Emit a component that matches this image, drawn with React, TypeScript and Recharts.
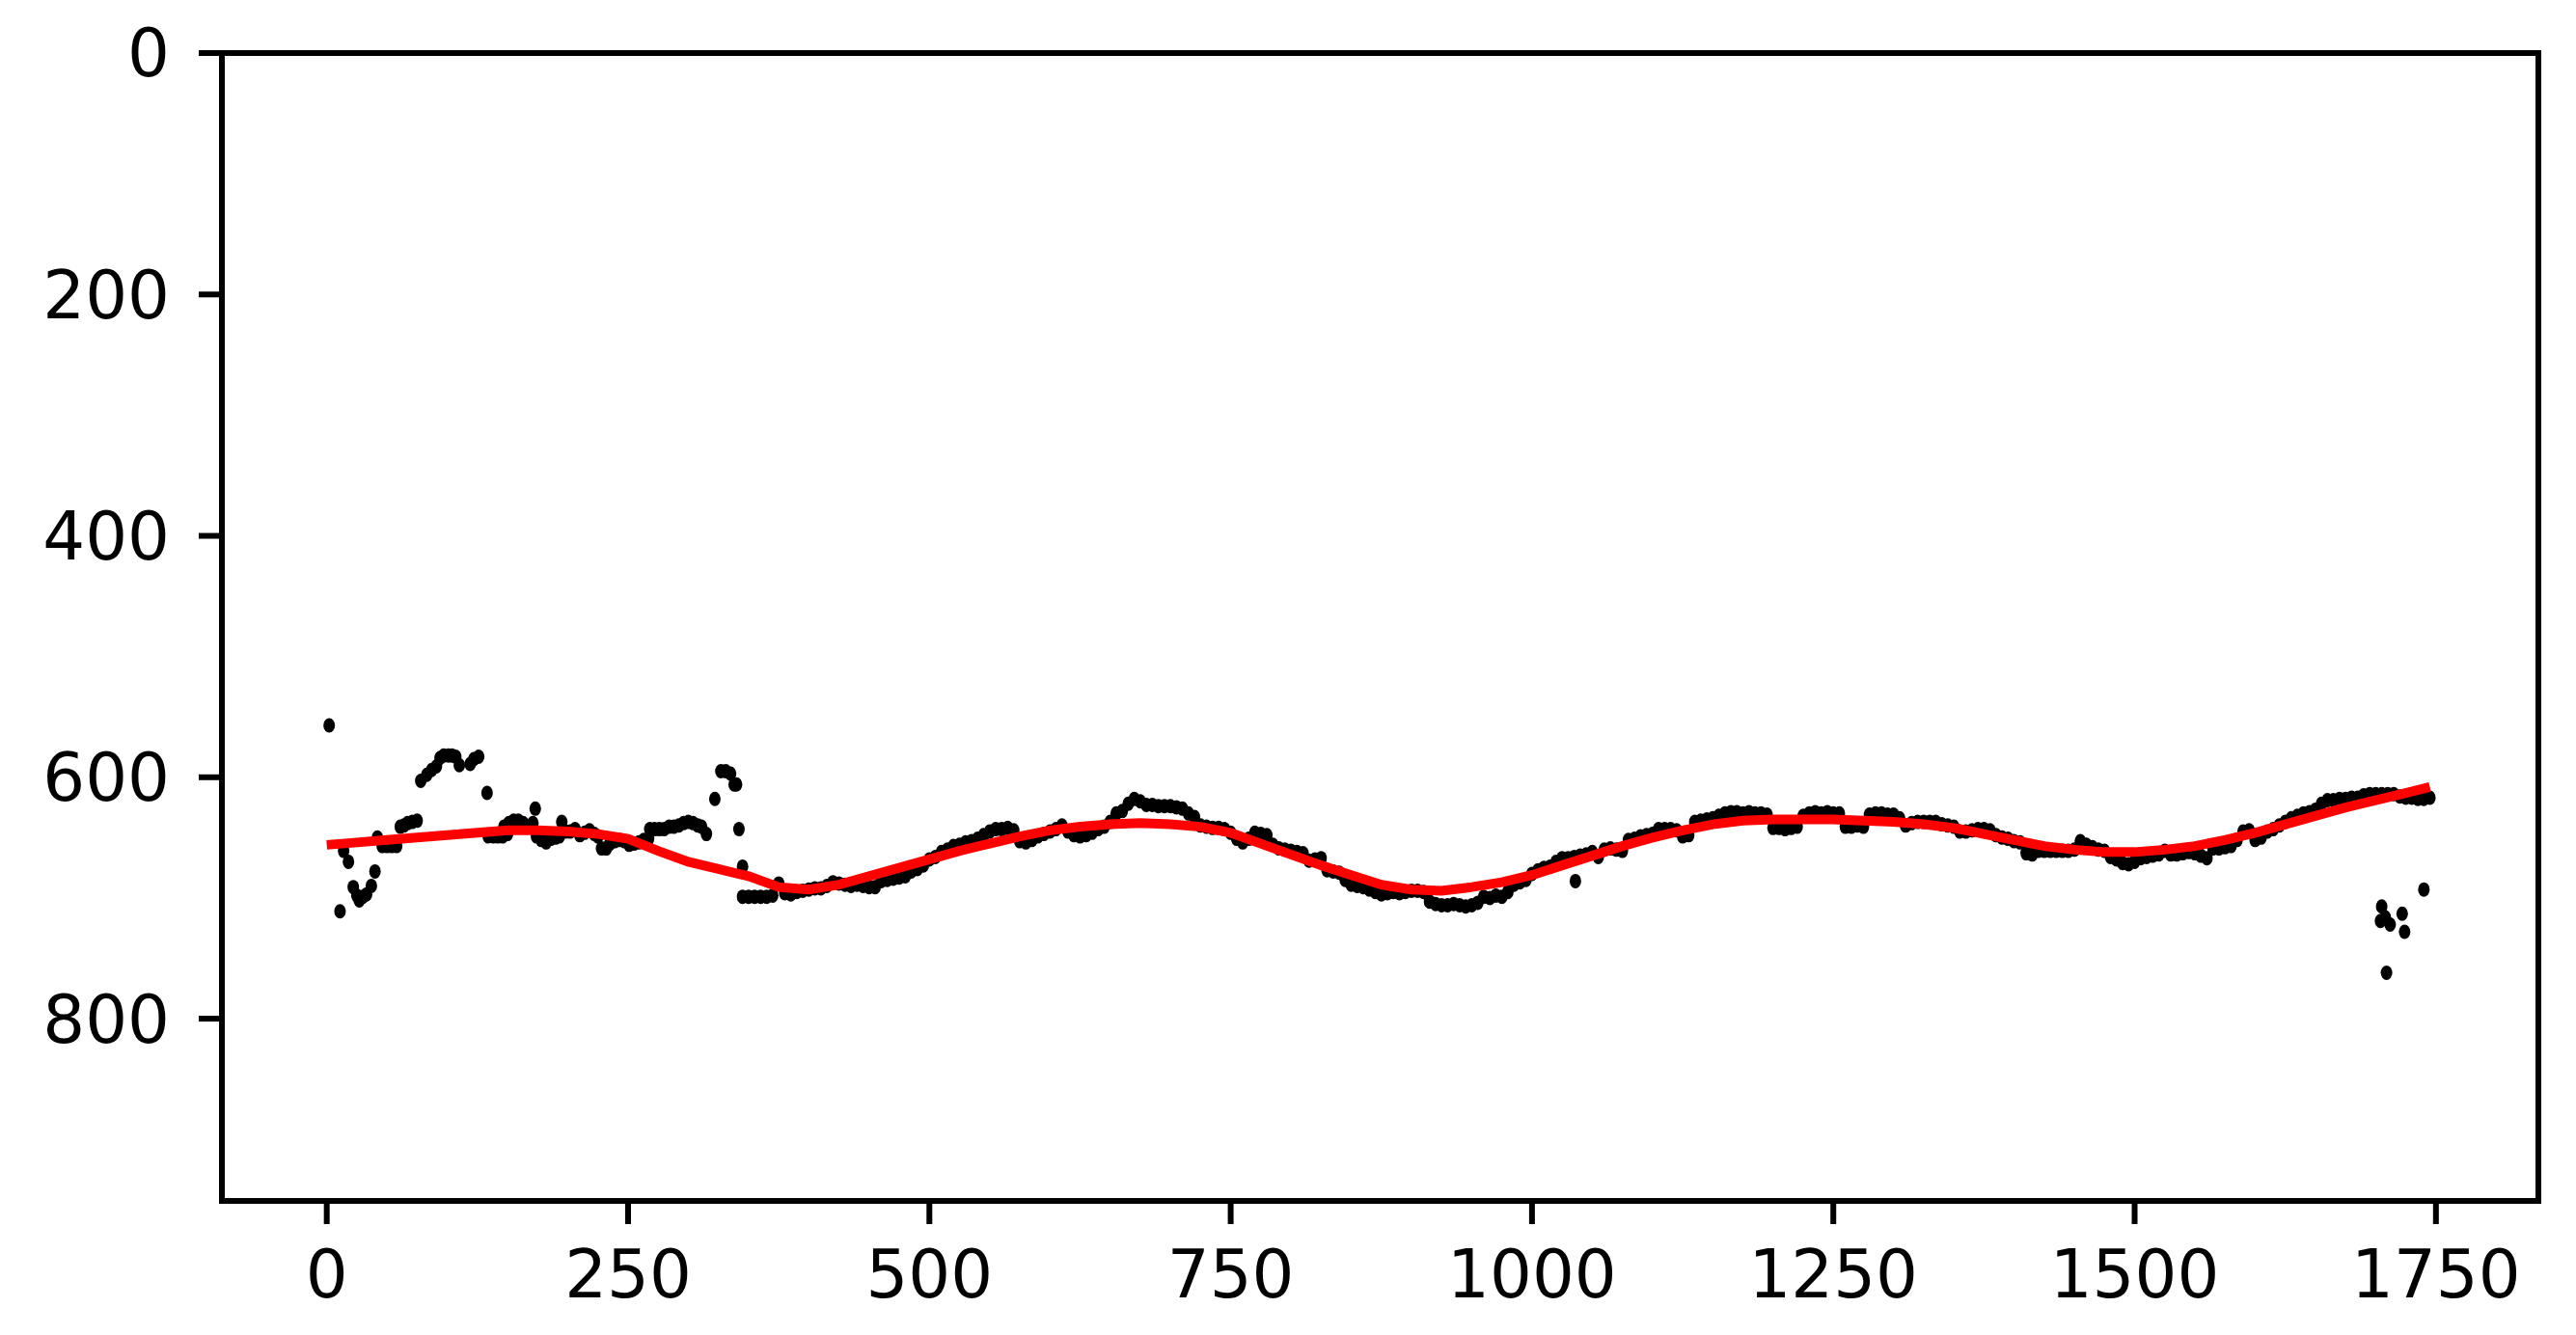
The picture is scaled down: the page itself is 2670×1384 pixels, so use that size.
import { ScatterChart, Scatter, XAxis, YAxis, ReferenceArea } from "recharts";

// scattered detections before the track settles (frame, y)
const earlyPoints: [number, number][] = [
  [2, 557], [11, 711], [14, 661], [18, 670], [22, 691], [25, 698], [27, 702], [30, 699],
  [33, 697], [37, 690], [40, 678], [42, 650], [46, 657], [50, 657], [54, 657], [58, 657],
  [61, 641], [64, 640], [67, 638], [71, 637], [75, 636], [78, 603], [83, 598], [87, 594],
  [91, 591], [94, 584], [97, 582], [101, 582], [104, 582], [107, 583], [110, 590], [119, 589],
  [122, 585], [126, 583], [133, 613], [134, 649], [138, 649], [142, 649], [146, 649], [150, 647],
  [147, 641], [151, 638], [155, 636], [159, 636], [163, 638], [167, 641], [171, 638], [173, 626],
  [174, 649], [178, 652], [182, 654], [186, 651], [190, 650], [193, 649], [195, 637], [198, 645],
  [202, 645], [206, 643], [210, 648], [214, 646], [218, 644], [222, 647], [225, 649], [228, 659],
  [232, 659], [235, 655], [239, 653], [243, 652], [247, 653], [251, 656], [255, 655], [259, 654],
  [263, 652], [267, 651], [268, 643], [272, 643], [276, 643], [280, 643], [284, 641], [288, 641],
  [292, 640], [296, 638], [300, 637], [304, 638], [308, 640], [311, 641], [315, 647], [322, 618],
  [327, 595], [331, 595], [335, 597], [338, 606], [340, 606], [342, 643], [345, 674],
];

// continuous track, one sample every 5 frames from frame 345
const bandStart = 345;
const bandStep = 5;
const bandY = [
  699, 699, 699, 699, 699, 698, 688, 696, 697, 695,
  694, 693, 692, 692, 690, 687, 688, 689, 690, 689,
  690, 691, 691, 686, 685, 684, 683, 682, 678, 676,
  673, 668, 666, 662, 660, 657, 656, 654, 653, 651,
  648, 645, 643, 643, 642, 644, 653, 654, 652, 649,
  647, 645, 643, 640, 645, 648, 649, 648, 646, 643,
  641, 637, 630, 628, 622, 618, 620, 623, 623, 624,
  624, 624, 625, 626, 630, 633, 640, 641, 642, 642,
  643, 646, 651, 654, 651, 646, 647, 648, 656, 659,
  660, 661, 662, 663, 669, 668, 667, 677, 678, 679,
  685, 689, 690, 691, 693, 695, 697, 696, 695, 696,
  695, 694, 694, 695, 703, 705, 706, 706, 705, 706,
  707, 706, 704, 699, 700, 698, 699, 695, 689, 687,
  685, 680, 677, 675, 674, 670, 667, 667, 666, 665,
  664, 662, 666, 660, 659, 660, 661, 652, 651, 649,
  648, 647, 643, 643, 643, 644, 649, 648, 637, 636,
  635, 634, 632, 630, 629, 629, 630, 629, 630, 630,
  631, 642, 642, 643, 642, 641, 632, 630, 629, 630,
  629, 630, 630, 641, 641, 640, 641, 631, 630, 630,
  631, 631, 634, 640, 638, 637, 637, 637, 637, 639,
  640, 641, 645, 645, 644, 643, 643, 644, 648, 650,
  651, 653, 654, 663, 664, 661, 661, 661, 661, 661,
  661, 660, 653, 656, 658, 660, 661, 666, 668, 671,
  672, 670, 667, 666, 665, 664, 661, 664, 664, 663,
  662, 663, 665, 667, 659, 659, 658, 657, 652, 645,
  644, 652, 650, 645, 643, 640, 637, 634, 632, 630,
  629, 627, 622, 619, 619, 618, 618, 617, 617, 615,
  614, 614, 614, 614, 614, 616, 617, 617, 618, 618,
  617,
];

const outlierPoints: [number, number][] = [
  [1036, 686], [1705, 707], [1704, 719], [1708, 716], [1712, 722], [1722, 713],
  [1724, 728], [1709, 762], [1740, 693],
];

// fitted curve
const fitX = [
  0, 25, 50, 75, 100, 125, 150, 175, 200, 225, 250, 275, 300, 325, 350, 375, 400, 425, 450,
  475, 500, 525, 550, 575, 600, 625, 650, 675, 700, 725, 750, 775, 800, 825, 850, 875, 900,
  925, 950, 975, 1000, 1025, 1050, 1075, 1100, 1125, 1150, 1175, 1200, 1225, 1250, 1275,
  1300, 1325, 1350, 1375, 1400, 1425, 1450, 1475, 1500, 1525, 1550, 1575, 1600, 1625, 1650,
  1675, 1700, 1725, 1745,
];
const fitY = [
  656, 654, 652, 650, 648, 646, 644, 644, 645, 647, 651, 661, 670, 676, 682, 691, 693, 689, 682,
  675, 668, 661, 655, 649, 644, 641, 639, 638, 639, 641, 646, 655, 664, 673, 681, 689, 693,
  694, 691, 687, 681, 673, 665, 657, 650, 644, 639, 636, 635, 635, 635, 636,
  637, 639, 642, 647, 652, 657, 660, 662, 662, 660, 657, 652, 646, 639, 632,
  625, 619, 613, 608,
];

const xTicks = [0, 250, 500, 750, 1000, 1250, 1500, 1750];
const yTicks = [0, 200, 400, 600, 800];

const points = [
  ...earlyPoints.map(([x, y]) => ({ x, y })),
  ...bandY.map((y, i) => ({ x: bandStart + i * bandStep, y })),
  ...outlierPoints.map(([x, y]) => ({ x, y })),
];
const fitData = fitX.map((x, i) => ({ x, y: fitY[i] }));

const tickFont = { fill: "#000", fontSize: 69, fontFamily: "DejaVu Sans" };

const Dot = (p: any) => <ellipse cx={p.cx} cy={p.cy} rx={6} ry={7.5} fill="#000" />;

export default function App() {
  return (
    <div style={{ position: "absolute", left: 0, top: 0, width: 2670, height: 1384, background: "#fff" }}>
      <ScatterChart width={2670} height={1384} margin={{ top: 55, right: 39, bottom: 0, left: 0 }}>
        <XAxis
          type="number"
          dataKey="x"
          domain={[-87, 1835]}
          ticks={xTicks}
          interval={0}
          allowDataOverflow
          height={139}
          tickSize={24}
          tickMargin={27}
          tick={tickFont}
          tickLine={{ stroke: "#000", strokeWidth: 6 }}
          axisLine={false}
        />
        <YAxis
          type="number"
          dataKey="y"
          domain={[0, 951]}
          reversed
          ticks={yTicks}
          interval={0}
          allowDataOverflow
          width={230}
          tickSize={24}
          tickMargin={30}
          tick={tickFont}
          tickLine={{ stroke: "#000", strokeWidth: 6 }}
          axisLine={false}
        />
        <ReferenceArea
          x1={-87}
          x2={1835}
          y1={0}
          y2={951}
          stroke="#000"
          strokeWidth={6}
          fill="none"
          fillOpacity={0}
          ifOverflow="visible"
        />
        <Scatter data={points} shape={Dot} fill="#000" isAnimationActive={false} />
        <Scatter
          data={fitData}
          fill="#ff0000"
          line={{ stroke: "#ff0000", strokeWidth: 10 }}
          lineType="joint"
          shape={() => <g />}
          isAnimationActive={false}
        />
      </ScatterChart>
    </div>
  );
}
